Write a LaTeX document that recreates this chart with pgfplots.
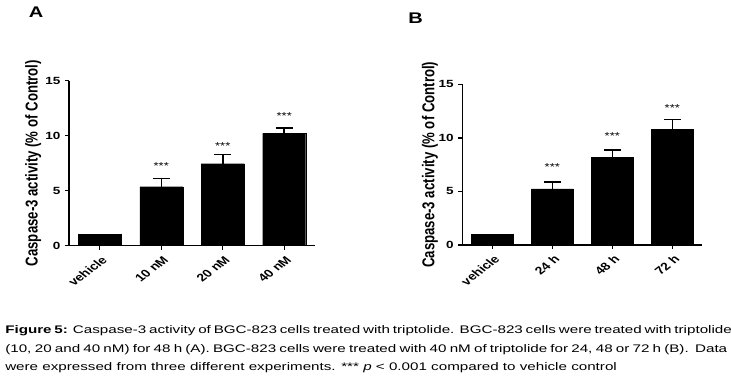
\documentclass[border=0pt]{standalone}
\usepackage{fontspec}
\setmainfont{Liberation Sans}
\usepackage{graphicx}
\usepackage{pgfplots}
\pgfplotsset{compat=1.18}
\tikzset{stars/.style={font=\fontsize{10}{12}\selectfont, xscale=1.3, anchor=base, yshift=-5.8pt}}
\pgfplotsset{panel/.style={
  scale only axis, anchor=south west, ymin=0, ymax=15, xmin=-0.5, xmax=3.5,
  axis x line=bottom, axis y line=left, axis line style={-, line width=1.4pt},
  ytick={0,5,10,15}, xtick={0,1,2,3}, tick align=outside, major tick length=4pt,
  every tick/.style={black, line width=1.4pt},
  tick label style={font=\fontsize{10.4}{12}\selectfont\bfseries},
  /pgf/number format/assume math mode=true,
  y tick label style={xscale=1.3},
  x tick label style={font=\fontsize{10.8}{12}\selectfont\bfseries, xscale=1.3, rotate=45, anchor=north east, yshift=-1pt},
  ylabel={Caspase-3 activity (\% of Control)},
  ylabel style={font=\fontsize{13.2}{15}\selectfont\bfseries, rotate=-90, xscale=1.3, rotate=90, anchor=center},
  clip=false,
},
mybar/.style={ybar, bar shift=0pt, fill=black, draw=black, mark=none,
  error bars/y dir=plus, error bars/y explicit,
  error bars/error bar style={line width=1.5pt, black},
  error bars/error mark options={rotate=90, mark size=8.5pt, line width=1.5pt, black}}
}
\begin{document}
\begin{tikzpicture}
\useasboundingbox (0pt,0pt) rectangle (731pt,382pt);
\fill[white] (0pt,0pt) rectangle (731pt,382pt);
\node[font=\fontsize{15.4}{18}\selectfont\bfseries, xscale=1.3] at (36pt,369.3pt) {A};
\node[font=\fontsize{15.4}{18}\selectfont\bfseries, xscale=1.3] at (415.5pt,363.5pt) {B};
\begin{axis}[panel, at={(69pt,136.3pt)}, width=246pt, height=165pt,
  xticklabels={vehicle,10 nM,20 nM,40 nM},
  ylabel style={at={(axis description cs:-0.146,0.5)}}]
\addplot[mybar, bar width=43pt] coordinates {(0,1.0) +- (0,0) (1,5.36) +- (0,0.74) (2,7.45) +- (0,0.85) (3,10.2) +- (0,0.5)};
\node[stars] at (axis cs:1,7.49) {***};
\node[stars] at (axis cs:2,9.31) {***};
\node[stars] at (axis cs:3,11.97) {***};
\end{axis}
\begin{axis}[panel, at={(462.3pt,137pt)}, width=240pt, height=160.7pt,
  xticklabels={vehicle,24 h,48 h,72 h},
  ylabel style={at={(axis description cs:-0.135,0.5)}}]
\addplot[mybar, bar width=42pt] coordinates {(0,1.0) +- (0,0) (1,5.23) +- (0,0.67) (2,8.15) +- (0,0.72) (3,10.8) +- (0,0.93)};
\node[stars] at (axis cs:1,7.53) {***};
\node[stars] at (axis cs:2,10.36) {***};
\node[stars] at (axis cs:3,13.04) {***};
\end{axis}
\begin{scope}[font=\fontsize{11}{13}\selectfont]
\node[anchor=base west, inner sep=0pt, xscale=1.38] at (5pt,48pt) {\makebox[523.2pt][s]{\textbf{Figure 5:} Caspase-3 activity of BGC-823 cells treated with triptolide. BGC-823 cells were treated with triptolide}};
\node[anchor=base west, inner sep=0pt, xscale=1.38] at (5pt,29.5pt) {\makebox[523.2pt][s]{(10, 20 and 40 nM) for 48 h (A). BGC-823 cells were treated with 40 nM of triptolide for 24, 48 or 72 h (B).\ \ Data}};
\node[anchor=base west, inner sep=0pt, xscale=1.38] at (5pt,11pt) {were expressed from three different experiments. *** \textit{p} < 0.001 compared to vehicle control};
\end{scope}
\end{tikzpicture}
\end{document}
